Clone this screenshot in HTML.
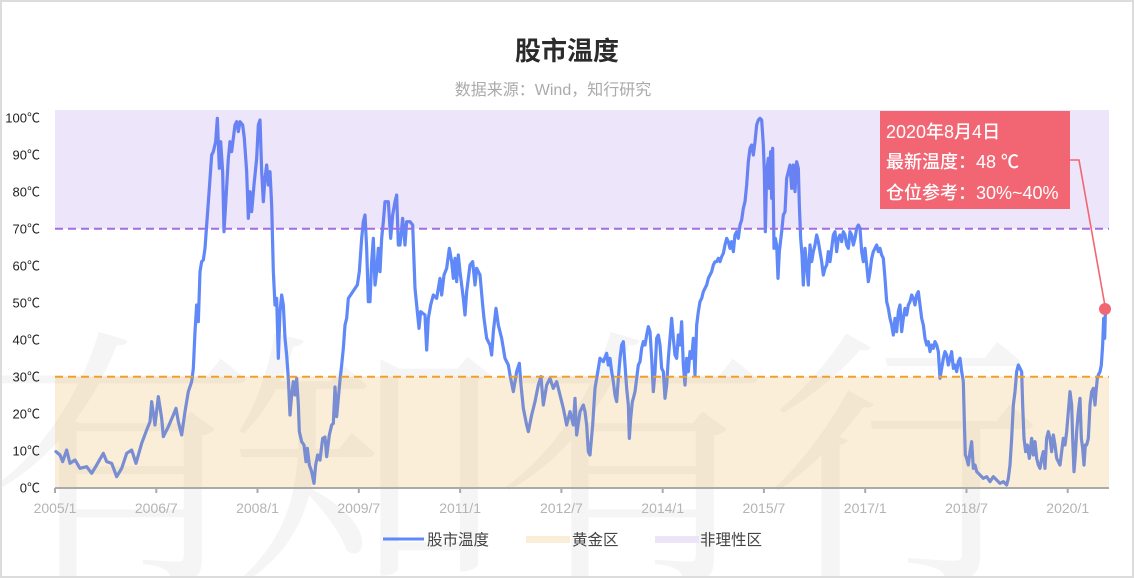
<!DOCTYPE html>
<html><head><meta charset="utf-8"><style>
html,body{margin:0;padding:0;background:#fff;width:1134px;height:578px;overflow:hidden;}
body{position:relative;}
#wm{position:absolute;left:0;top:300px;width:1134px;height:278px;overflow:hidden;}
#wm div{position:absolute;top:23.5px;width:275px;height:240px;line-height:240px;font-size:275px;text-align:center;color:rgba(0,0,0,0.04);font-family:"Noto Serif CJK SC","Noto Sans CJK SC",serif;}
svg{display:block;position:absolute;left:0;top:0;overflow:hidden;}
</style></head><body>
<div id="wm"><div style="left:-17.5px">有</div><div style="left:227.5px">知</div><div style="left:494.5px">有</div><div style="left:766.5px">行</div></div>
<svg width="1134" height="578" viewBox="0 0 1134 578" xmlns="http://www.w3.org/2000/svg" font-family="'Liberation Sans','Noto Sans CJK SC',sans-serif">
<rect x="1" y="1" width="1132" height="576" fill="none" stroke="#dcdcdc" stroke-width="2"/>
<!-- title -->
<text x="567" y="60" text-anchor="middle" font-size="26" font-weight="bold" fill="#2b2b2b">股市温度</text>
<text x="553" y="95" text-anchor="middle" font-size="16" fill="#aaa">数据来源：Wind，知行研究</text>

<!-- series -->
<g fill="none" stroke="#5f88f8" stroke-width="9.6" stroke-linejoin="round" stroke-linecap="round">
<g transform="translate(50,105) scale(0.333333)"><polyline points="18,1040 30,1050 38,1070 50,1035 60,1075 75,1065 90,1090 110,1085 125,1105 140,1080 160,1045 170,1070 185,1075 200,1115 215,1090 230,1045 245,1035 258,1075 275,1015 290,975 300,950 305,890 315,960 325,875 335,940 340,995 355,965 370,930 378,910 385,950 395,990 405,920 415,860 425,830 430,790 435,680 440,600 445,650 450,500 455,470 460,465 465,430 470,360 478,250 485,150 490,140 497,110 502,40 508,190 512,110 518,200 522,380 528,280 535,160 540,110 545,140 550,100 555,60 560,50 565,80 570,50 578,60 583,100 590,200 595,340 600,260 605,320 612,240 620,160 625,60 630,45 635,200 640,290 645,220 650,180 655,240 660,200 665,300 670,500 675,600 680,580 685,760 690,620 695,570 700,600 705,700 710,750 715,820 720,930 725,870 730,830 735,870 740,820 745,900 748,980 755,1010 762,1020 768,1070 772,1030 778,1080 785,1100 792,1135 797,1080 803,1050 810,1065"/></g>
<g transform="translate(320,105) scale(0.333333)"><polyline points="0,1065 8,1000 15,996 20,1055 28,990 35,960 40,955 45,846 50,935 55,880 60,825 65,780 70,730 75,660 80,640 85,580 95,565 105,550 112,540 118,500 125,400 130,350 135,330 140,430 145,590 150,590 155,470 160,400 165,540 170,500 175,430 180,500 185,400 190,350 195,290 205,290 212,400 218,330 225,290 230,270 235,420 240,420 248,340 255,420 260,350 270,350 278,360 285,550 292,620 297,670 302,620 315,630 320,735 325,640 332,600 340,570 350,580 360,520 365,570 372,510 380,490 388,430 395,470 400,520 405,460 410,530 415,450 420,500 430,580 435,630 440,560 450,480 458,470 465,540 470,490 480,510 488,600 492,640 500,700 510,720 515,750 520,680 528,610 535,660 545,700 555,760 565,780 570,810 580,860 590,800 598,775 603,840 610,910 620,960 625,980 635,930 645,890 655,840 663,815 670,900 680,840 690,820 700,850 710,830 720,870 730,910 740,960 750,920 760,960 765,880 770,990 780,920 790,900 795,920 800,960 805,1040 810,1050 818,960 825,850 835,790 840,760"/></g>
<g transform="translate(600,105) scale(0.333333)"><polyline points="0,760 10,770 20,745 25,780 30,760 35,800 40,830 45,870 50,890 55,820 60,760 65,720 70,710 75,780 80,850 85,900 88,1000 92,940 97,890 100,880 105,860 110,820 115,780 120,770 125,730 130,710 135,720 140,690 145,665 150,680 155,760 160,860 165,800 170,700 175,690 180,720 185,790 190,800 195,880 200,840 205,760 210,700 215,640 220,700 225,750 230,760 235,690 240,720 245,650 250,780 255,840 260,760 265,800 270,740 275,760 280,700 285,810 290,660 295,620 300,590 305,580 310,560 315,550 320,540 325,520 330,510 335,500 340,480 345,470 350,470 355,460 360,470 365,455 370,445 375,420 380,400 385,410 390,430 395,410 400,440 405,390 410,380 415,400 420,360 425,345 430,310 435,290 440,240 445,170 450,130 455,120 460,150 465,110 470,60 475,45 480,40 485,45 490,120 493,200 496,380 500,200 505,160 508,250 512,140 515,280 518,130 522,430 526,400 530,420 534,520 538,440 545,380 550,330 555,320 560,220 565,200 570,180 575,250 580,180 585,260 590,170 595,190 598,300 602,400 606,450 610,540 615,430 620,480 625,540 630,420 635,470 640,440 645,420 650,390 655,410 660,440 665,470 670,510 675,490 680,480 685,440 690,470 695,430 700,390 705,380 710,440 715,400 720,390 725,410 730,380 735,390 740,420 745,430 750,380 755,390 760,420 765,400 770,370 775,360 780,370"/></g>
<g transform="translate(860,105) scale(0.333333)"><polyline points="0,370 5,440 10,470 15,430 20,480 25,530 30,500 35,460 40,440 45,430 50,420 55,440 60,430 65,450 70,460 75,520 80,590 85,610 90,640 95,660 100,690 105,640 110,680 115,620 120,600 125,680 130,640 135,610 140,630 145,600 150,590 155,570 160,580 165,600 170,570 175,560 180,600 185,640 190,660 195,700 200,720 205,710 210,740 215,720 220,730 225,710 230,720 235,740 240,820 245,790 250,760 255,740 260,750 265,780 270,760 275,740 280,790 285,780 290,800 295,770 300,760 305,800 310,830 313,950 316,1050 320,1060 325,1080 330,1040 335,1010 340,1090 345,1080 350,1100 360,1110 370,1120 380,1115 390,1130 400,1115 410,1125 420,1135 430,1130 440,1140 445,1120 450,1080 455,1000 460,900 465,860 470,800 475,780 480,790 485,800 488,900 492,1000 497,1040 502,1020 508,1060 515,1000 520,1050 525,1010 530,1060 535,1080 540,1090 545,1060 550,1040 555,1090 560,1000 565,980 570,1000 575,1040 580,990 585,1020 590,1060 595,1070 600,1080 605,1040 610,1000 615,1020 620,980 625,920 630,860 635,900 638,1000 642,1100 646,1050 650,980 655,920 660,880 664,1000 668,1030 672,1080 676,1020 680,1020 685,1000 690,900 695,860 700,850 705,900 708,860 712,820 715,810 720,800 724,780 728,720 731,640 734,700 736,630 738,612"/></g>
</g>

<!-- bands (overlay) -->
<rect x="55" y="110" width="1054" height="118.7" fill="rgba(150,100,222,0.17)"/>
<rect x="55" y="376.7" width="1054" height="111" fill="rgba(234,164,47,0.19)"/>
<line x1="55" y1="228.7" x2="1109" y2="228.7" stroke="#a06ede" stroke-width="2" stroke-dasharray="8,5"/>
<line x1="55" y1="376.7" x2="1109" y2="376.7" stroke="#f0a028" stroke-width="2" stroke-dasharray="8,5"/>

<!-- x axis -->
<line x1="55" y1="488" x2="1109" y2="488" stroke="#aaa" stroke-width="2"/>
<g stroke="#aaa" stroke-width="2">
<line x1="55" y1="488" x2="55" y2="493"/><line x1="156.3" y1="488" x2="156.3" y2="493"/><line x1="257.5" y1="488" x2="257.5" y2="493"/><line x1="358.8" y1="488" x2="358.8" y2="493"/><line x1="460.1" y1="488" x2="460.1" y2="493"/><line x1="561.4" y1="488" x2="561.4" y2="493"/><line x1="662.7" y1="488" x2="662.7" y2="493"/><line x1="763.9" y1="488" x2="763.9" y2="493"/><line x1="865.2" y1="488" x2="865.2" y2="493"/><line x1="966.5" y1="488" x2="966.5" y2="493"/><line x1="1067.7" y1="488" x2="1067.7" y2="493"/>
</g>
<g font-size="14" fill="#b4b4b4" text-anchor="middle">
<text x="55" y="513">2005/1</text><text x="156.3" y="513">2006/7</text><text x="257.5" y="513">2008/1</text><text x="358.8" y="513">2009/7</text><text x="460.1" y="513">2011/1</text><text x="561.4" y="513">2012/7</text><text x="662.7" y="513">2014/1</text><text x="763.9" y="513">2015/7</text><text x="865.2" y="513">2017/1</text><text x="966.5" y="513">2018/7</text><text x="1067.7" y="513">2020/1</text>
</g>
<!-- y labels -->
<g font-size="13" fill="#222" text-anchor="end">
<text x="40" y="122.4">100℃</text><text x="40" y="159.4">90℃</text><text x="40" y="196.4">80℃</text><text x="40" y="233.4">70℃</text><text x="40" y="270.4">60℃</text><text x="40" y="307.4">50℃</text><text x="40" y="344.4">40℃</text><text x="40" y="381.4">30℃</text><text x="40" y="418.4">20℃</text><text x="40" y="455.4">10℃</text><text x="40" y="492.4">0℃</text>
</g>

<!-- legend -->
<line x1="383" y1="539" x2="424" y2="539" stroke="#5f88f8" stroke-width="3"/>
<text x="427" y="545" font-size="15.5" fill="#444">股市温度</text>
<rect x="526" y="536" width="44" height="7" fill="#fbeed9"/>
<text x="572" y="545" font-size="15.5" fill="#444">黄金区</text>
<rect x="655" y="536" width="44" height="7" fill="#ede4f8"/>
<text x="700" y="545" font-size="15.5" fill="#444">非理性区</text>

<!-- tooltip -->
<polyline points="1070,160 1079,160 1105,306" fill="none" stroke="#f26673" stroke-width="1.6"/>
<circle cx="1105" cy="309" r="6" fill="#f26673"/>
<rect x="880" y="111" width="190" height="98" fill="#f26673"/>
<g font-size="18" fill="#fff" font-weight="500">
<text x="886" y="138">2020年8月4日</text>
<text x="886" y="168">最新温度：48 ℃</text>
<text x="886" y="199">仓位参考：30%~40%</text>
</g>
</svg>
</body></html>
